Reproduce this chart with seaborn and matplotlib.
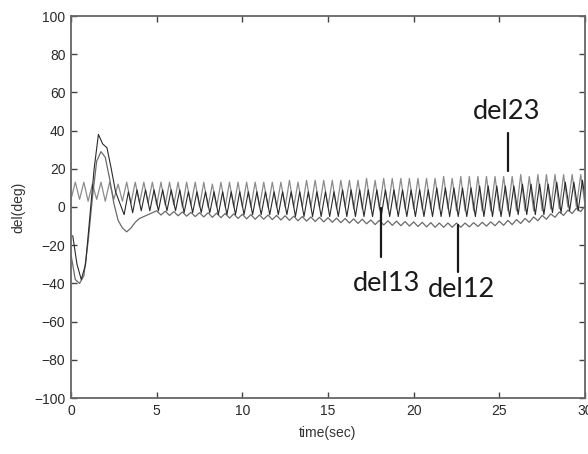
import numpy as np
import pandas as pd
import seaborn as sns
import matplotlib.pyplot as plt

# sample times (sec), every 0.25 s
time_sec = np.linspace(0, 30, 121)
# del13 swings slightly later than del23 in the picture
time_sec13 = np.linspace(0.1, 30.1, 121)

# rotor angle differences (deg)
del12 = [
    -25, -38, -40, -36, -18, 5, 24, 29, 26, 15, 2, -7, -11, -13, -11, -8, -6, -5, -4, -3,
    -2, -4.2, -2.2, -4.4, -2.4, -4.6, -2.6, -4.8, -2.8, -5, -3, -5.2, -3, -5.4, -3.2, -5.6, -3.4, -5.8, -3.6, -6,
    -3.8, -6.2, -4, -6.4, -4.2, -6.4, -4.2, -6.6, -4.4, -6.8, -4.6, -7, -4.8, -7.2, -5, -7.4, -5.2, -7.6, -5.4, -7.8,
    -5.6, -8, -5.8, -8.2, -6, -8.4, -6.2, -8.6, -6.4, -8.8, -6.8, -9.2, -7, -9.4, -7.2, -9.6, -7.4, -9.8, -7.6, -10,
    -7.8, -10.2, -8, -10.4, -8.2, -10.6, -8.4, -10.6, -8.4, -10.6, -8.4, -10.6, -8.4, -10.4, -8.2, -10.2, -8, -10, -7.8, -9.8,
    -7.4, -9.6, -7, -9.2, -6.6, -8.6, -6, -8, -5.2, -7.2, -4.4, -6.4, -3.6, -5.4, -2.6, -4.4, -1.6, -3.4, -0.6, -2.4,
    0.5,
]
del13 = [
    -15, -30, -38, -30, -5, 20, 38, 33, 31, 20, 8, 2, -4, 8, -3, 9, -2, 9, -2, 9,
    -2, 9, -2, 9, -2, 9, -3, 8, -3, 8, -3, 8, -3, 8, -4, 8, -4, 8, -4, 8,
    -4, 8, -4, 8, -4, 8, -4, 8, -4, 8, -4, 8, -5, 8, -5, 8, -5, 8, -5, 8,
    -5, 8, -5, 9, -5, 9, -5, 9, -5, 9, -5, 9, -5, 9, -5, 9, -5, 9, -5, 9,
    -5, 9, -5, 9, -5, 10, -5, 10, -5, 10, -5, 10, -5, 10, -5, 11, -5, 11, -5, 11,
    -5, 11, -5, 11, -4, 12, -4, 12, -4, 12, -4, 12, -3, 13, -3, 13, -2, 13, -2, 14,
    -1,
]
del23 = [
    4, 13, 4, 13, 3, 12, 4, 13, 3, 13, 4, 12, 3, 13, 2, 13, 2, 13, 2, 13,
    1, 13, 1, 13, 1, 13, 0, 13, 1, 13, 0, 13, 0, 12, 0, 13, 0, 13, 0, 13,
    0, 13, 0, 13, 0, 13, 0, 13, 0, 13, 0, 14, 0, 13, 0, 14, 0, 14, 0, 14,
    0, 14, -1, 14, 0, 14, -1, 14, -1, 15, -1, 14, -1, 15, -1, 15, -1, 15, -1, 15,
    -1, 15, -1, 15, -1, 15, -1, 16, -1, 15, -2, 16, -2, 16, -2, 16, -2, 16, -2, 16,
    -2, 16, -2, 16, -2, 17, -2, 16, -2, 17, -2, 17, -1, 17, -1, 17, 0, 17, 0, 17,
    1,
]

# labels placed on the chart: (name, text x, text y, line x, line top, line bottom)
labels = [
    ("del23", 25.4, 50, 25.5, 39, 19),
    ("del13", 18.4, -40, 18.1, -0.5, -26),
    ("del12", 22.8, -43, 22.6, -9.5, -34),
]

df = pd.DataFrame({"time": time_sec, "del12": del12, "del23": del23})
df13 = pd.DataFrame({"time": time_sec13, "del13": del13})

sns.set_theme(style="ticks")
plt.rcParams["font.family"] = ["Liberation Sans", "DejaVu Sans"]

fig = plt.figure(figsize=(5.88, 4.54), dpi=100)
ax = fig.add_axes([71 / 588, 56 / 454, 514 / 588, 382 / 454])

sns.lineplot(data=df, x="time", y="del23", color="#8c8c8c", linewidth=0.9, estimator=None, ax=ax)
sns.lineplot(data=df, x="time", y="del12", color="#6a6a6a", linewidth=0.9, estimator=None, ax=ax)
sns.lineplot(data=df13, x="time", y="del13", color="#2a2a2a", linewidth=0.8, estimator=None, ax=ax)

ax.set_xlim(0, 30)
ax.set_ylim(-100, 100)
ax.set_xticks(range(0, 31, 5))
ax.set_yticks(range(-100, 101, 20))
ax.tick_params(direction="in", length=4, width=1, colors="#444444", labelcolor="#2a2a2a",
               labelsize=10, top=True, right=True, pad=4)
for s in ax.spines.values():
    s.set_color("#666666")
    s.set_linewidth(1.3)

ax.set_xlabel("time(sec)", fontsize=10, color="#333333", labelpad=6)
ax.set_ylabel("del(deg)", fontsize=10, color="#333333", labelpad=6)

# annotations
for name, tx, ty, lx, ly1, ly2 in labels:
    ax.text(tx, ty, name, fontsize=19.5, family=["Lato", "DejaVu Sans"], color="#1a1a1a",
            ha="center", va="center")
    ax.plot([lx, lx], [ly1, ly2], color="#1a1a1a", linewidth=1.6)

fig.savefig("out.png", dpi=100)
